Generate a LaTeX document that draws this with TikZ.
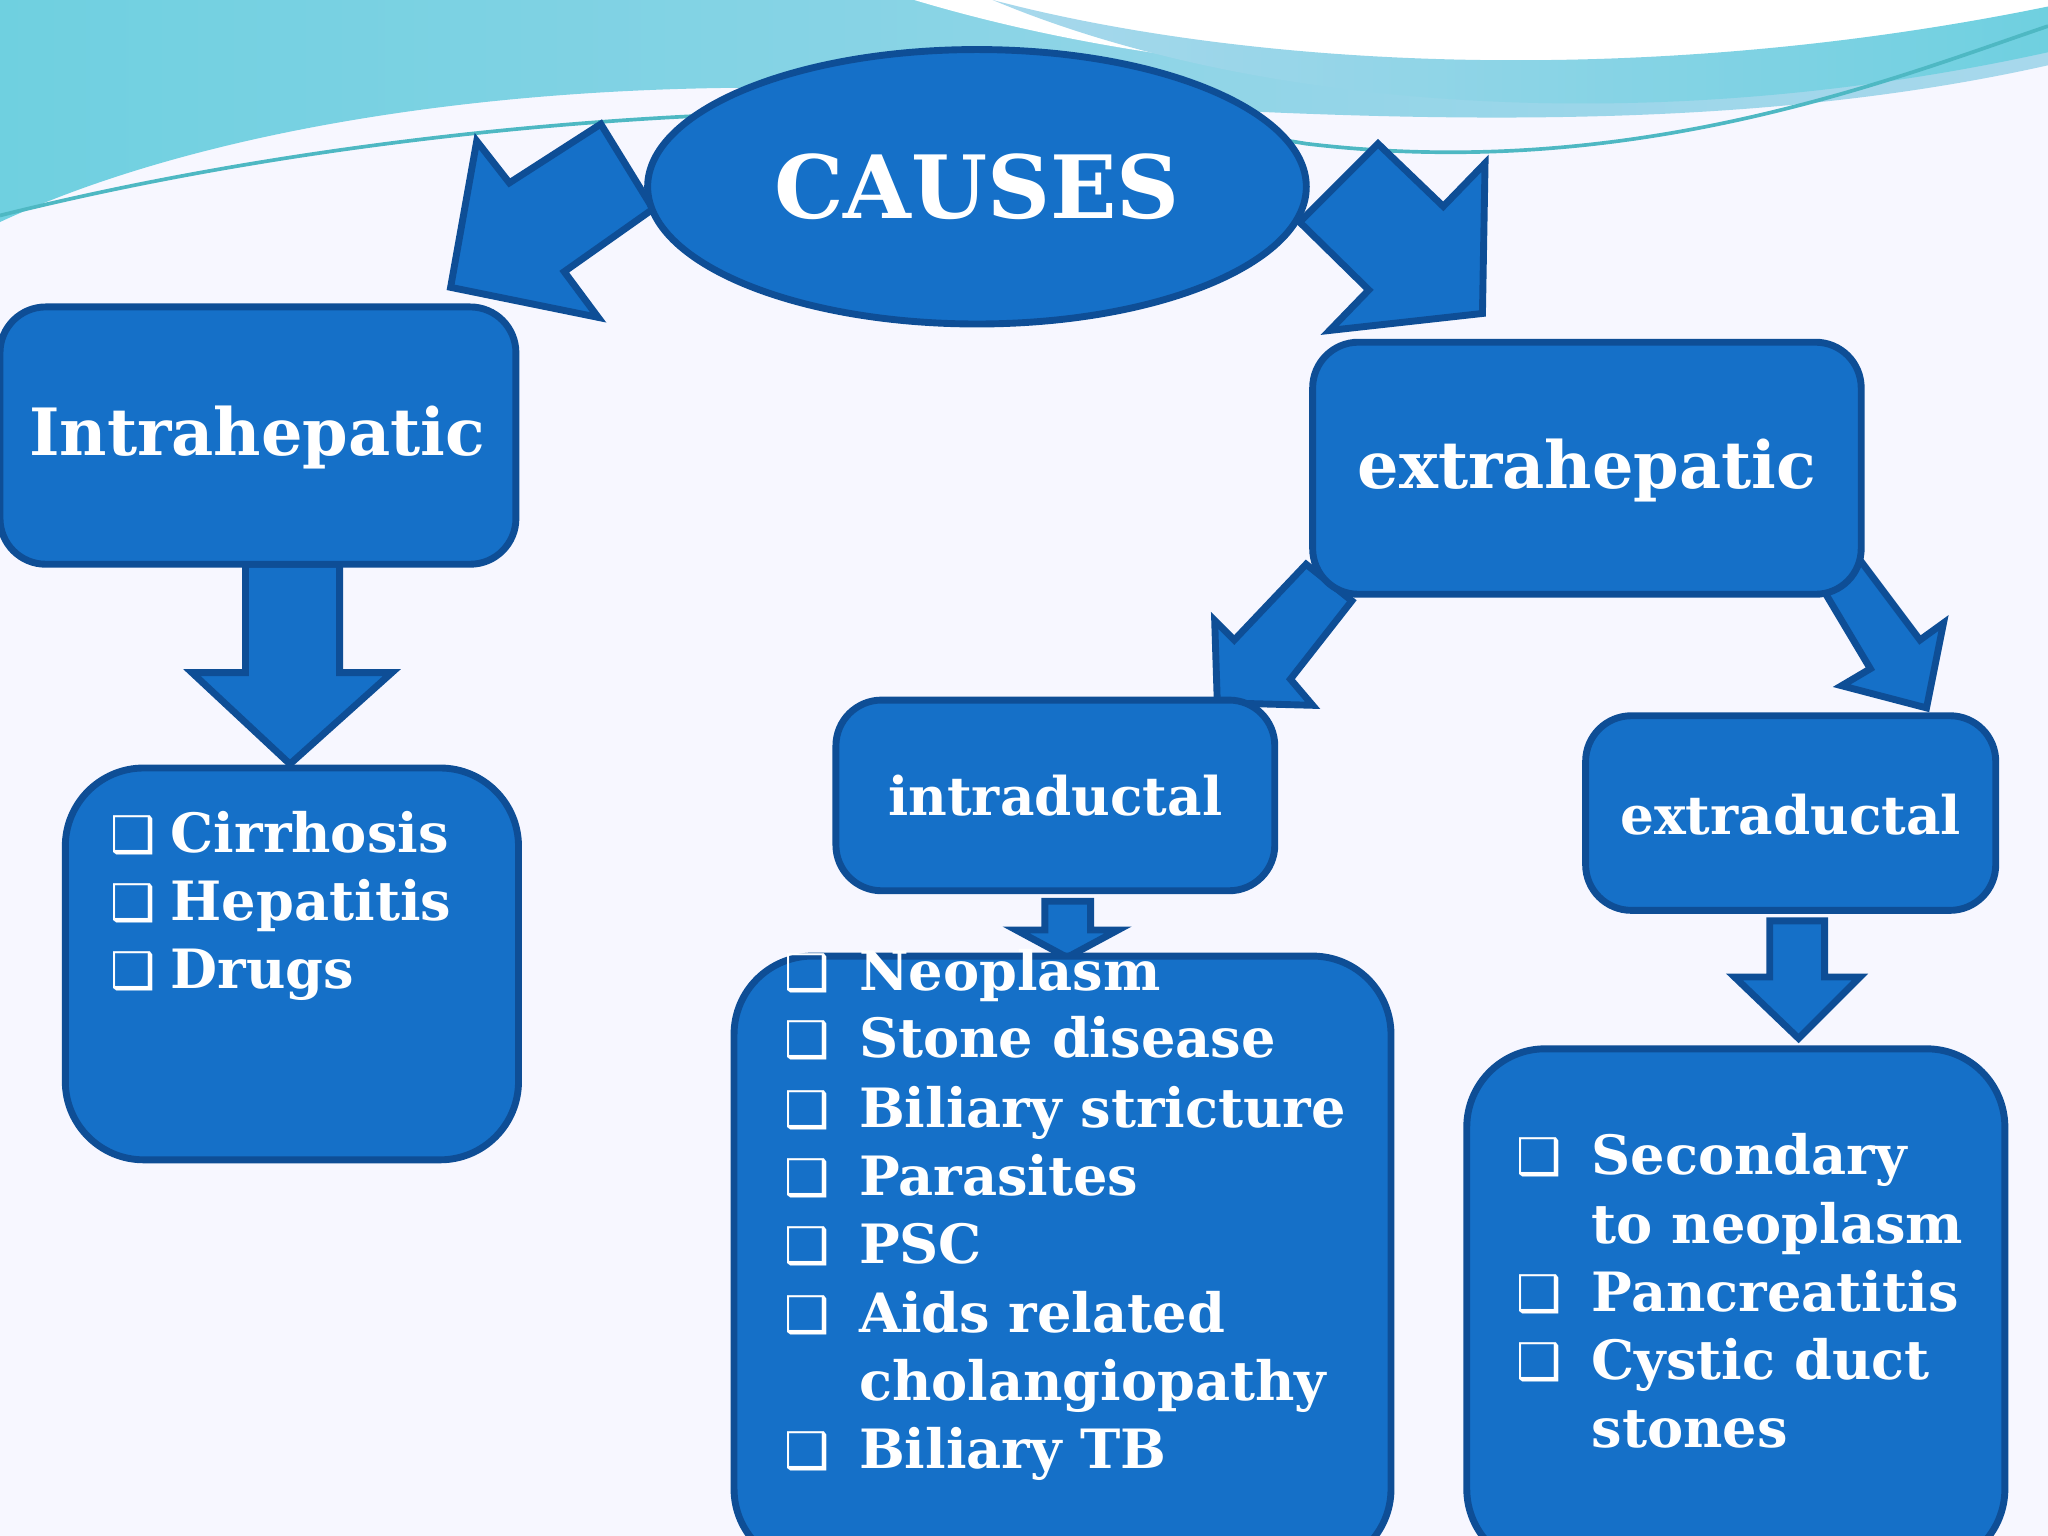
\documentclass[tikz,border=0pt]{standalone}
\usepackage{fontspec}
\setmainfont{DejaVu Serif}
\newfontfamily\symf{DejaVu Sans}
\usetikzlibrary{shapes.geometric}
\definecolor{bfill}{HTML}{1570C8}
\definecolor{bline}{HTML}{0E4E96}
\definecolor{wave1}{HTML}{6FD0E0}
\definecolor{wave2}{HTML}{A8D8EC}
\tikzset{
 blk/.style={fill=bfill,draw=bline,line width=1.5pt},
 box/.style={blk,rounded corners=0.35cm},
 bigbox/.style={blk,rounded corners=0.6cm},
 lbl/.style={text=white,font=\bfseries},
 item/.style={text=white,font=\bfseries\fontsize{11.8}{14}\selectfont,anchor=base west,inner sep=0},
 chk/.style={text=white,font=\symf\fontsize{11}{13}\selectfont,anchor=base west,inner sep=0}
}
\begin{document}
\begin{tikzpicture}[x=0.01cm,y=-0.01cm]
\useasboundingbox (0,0) rectangle (1568,1176);
\fill[white!97!blue] (0,0) rectangle (1568,1176);
% top wave
\shade[left color=wave1,right color=wave2] (0,0) -- (1568,0) -- (1568,50) .. controls (1300,110) and (1000,90) .. (700,70) .. controls (400,55) and (150,100) .. (0,170) -- cycle;
\fill[white] (700,0) .. controls (900,60) and (1200,90) .. (1568,10) -- (1568,0) -- cycle;
\shade[left color=wave2,right color=wave1] (760,0) .. controls (950,50) and (1250,70) .. (1568,5) -- (1568,40) .. controls (1250,110) and (950,80) .. (760,0) -- cycle;
\draw[wave1!70!teal,line width=0.8pt] (0,165) .. controls (300,90) and (700,60) .. (1000,110) .. controls (1250,140) and (1450,60) .. (1568,20);
% arrows
\path[blk] (500,160) -- (460,95) -- (390,140) -- (365,108) -- (345,220) -- (458,243) -- (432,208) -- cycle;
\path[blk] (995,170) -- (1048,222) -- (1018,253) -- (1135,240) -- (1137,125) -- (1105,158) -- (1055,110) -- cycle;
\path[blk] (188,432) -- (260,432) -- (260,515) -- (300,515) -- (222,585) -- (147,515) -- (188,515) -- cycle;
\path[blk] (1000,432) -- (945,490) -- (930,475) -- (932,538) -- (1005,540) -- (988,520) -- (1035,460) -- cycle;
\path[blk] (1392,445) -- (1432,512) -- (1410,525) -- (1475,542) -- (1488,477) -- (1470,490) -- (1425,430) -- cycle;
\path[blk] (800,690) -- (835,690) -- (835,712) -- (856,712) -- (817,733) -- (778,712) -- (800,712) -- cycle;
\path[blk] (1355,705) -- (1397,705) -- (1397,748) -- (1424,748) -- (1377,795) -- (1328,748) -- (1355,748) -- cycle;
% nodes
\node[blk,ellipse,minimum width=5.04cm,minimum height=2.1cm,inner sep=0,lbl,font=\bfseries\fontsize{19}{22}\selectfont] (causes) at (748,143) {CAUSES};
\path[box] (0,235) rectangle (395,432);
\node[lbl,font=\bfseries\fontsize{14.2}{17}\selectfont] (intra) at (197,335) {Intrahepatic};
\path[bigbox] (50,588) rectangle (397,888);
\path[box] (1005,262) rectangle (1425,455);
\node[lbl,font=\bfseries\fontsize{14.2}{17}\selectfont] (extra) at (1215,360) {extrahepatic};
\path[box] (640,536) rectangle (976,682);
\node[lbl,font=\bfseries\fontsize{11.6}{14}\selectfont] (intd) at (808,609) {intraductal};
\path[box] (1214,548) rectangle (1528,697);
\node[lbl,font=\bfseries\fontsize{11.6}{14}\selectfont] (extd) at (1371,624) {extraductal};
\path[bigbox] (562,732) rectangle (1065,1200);
\path[bigbox] (1123,803) rectangle (1535,1200);
% lists
\foreach \y/\t in {653/Cirrhosis,705/Hepatitis,757/Drugs}{
 \node[chk] at (84,\y) {❑}; \node[item] at (130,\y) {\t};}
\foreach \y/\t/\c in {758/Neoplasm/1,810/Stone disease/1,863/Biliary stricture/1,915/Parasites/1,967/PSC/1,1020/Aids related/1,1072/cholangiopathy/0,1124/Biliary TB/1}{
 \ifnum\c=1 \node[chk] at (600,\y) {❑};\fi \node[item] at (657,\y) {\t};}
\foreach \y/\t/\c in {899/Secondary/1,952/to neoplasm/0,1004/Pancreatitis/1,1056/Cystic duct/1,1108/stones/0}{
 \ifnum\c=1 \node[chk] at (1160,\y) {❑};\fi \node[item] at (1218,\y) {\t};}
\end{tikzpicture}
\end{document}
